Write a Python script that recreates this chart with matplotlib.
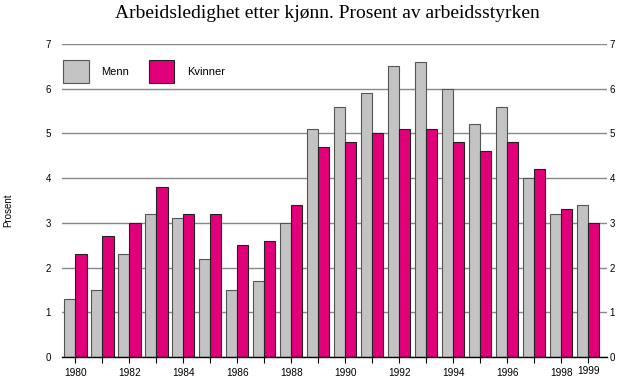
import numpy as np
import matplotlib.pyplot as plt

years = list(range(1980, 2000))
menn = [1.3, 1.5, 2.3, 3.2, 3.1, 2.2, 1.5, 1.7, 3.0, 5.1,
        5.6, 5.9, 6.5, 6.6, 6.0, 5.2, 5.6, 4.0, 3.2, 3.4]
kvinner = [2.3, 2.7, 3.0, 3.8, 3.2, 3.2, 2.5, 2.6, 3.4, 4.7,
           4.8, 5.0, 5.1, 5.1, 4.8, 4.6, 4.8, 4.2, 3.3, 3.0]
labelled_years = [1980, 1982, 1984, 1986, 1988, 1990, 1992, 1994, 1996, 1998, 1999]

plt.rcParams['font.family'] = ['Liberation Sans', 'DejaVu Sans']

fig = plt.figure(figsize=(6.17, 3.78), dpi=100)
ax = fig.add_axes([0.1005, 0.0556, 0.8833, 0.828])

x = np.array(years)
w = 0.41
ax.bar(x - w / 2, menn, width=w, color='#c3c3c3', edgecolor='#555555',
       linewidth=0.8, label='Menn', zorder=3)
ax.bar(x + w / 2, kvinner, width=w, color='#e2007a', edgecolor='#222222',
       linewidth=0.8, label='Kvinner', zorder=3)

ax.set_xlim(1979.5, 1999.7)
ax.set_ylim(0, 7)
ax.set_yticks(range(0, 8))
ax.yaxis.grid(True, color='#888888', linewidth=1.0, zorder=0)
ax.tick_params(axis='y', length=0, labelsize=7, pad=8)

# right-hand labels sit closer to the grid than the left ones
ax2 = ax.twinx()
ax2.set_ylim(0, 7)
ax2.set_yticks(range(0, 8))
ax2.tick_params(axis='y', length=0, labelsize=7, pad=2)
for side in ['left', 'right', 'top', 'bottom']:
    ax2.spines[side].set_visible(False)

ax.set_xticks(years)
ax.set_xticklabels([str(y) if y in labelled_years else '' for y in years])
ax.tick_params(axis='x', length=4, width=0.8, labelsize=7.3, pad=4)
for lbl in ax.get_xticklabels():
    if lbl.get_text() == '1999':
        lbl.set_y(0.006)

for side in ['left', 'right', 'top']:
    ax.spines[side].set_visible(False)
ax.spines['bottom'].set_linewidth(1.0)
ax.spines['bottom'].set_zorder(4)

ax.legend(loc='upper left', ncol=2, frameon=False, fontsize=8,
          handlelength=2.3, handleheight=2.9, columnspacing=1.8,
          handletextpad=1.1, borderpad=0.2, bbox_to_anchor=(-0.012, 0.975))

fig.text(0.530, 0.963, 'Arbeidsledighet etter kjønn. Prosent av arbeidsstyrken',
         ha='center', va='center', fontsize=14, family='Liberation Serif')
fig.text(0.013, 0.445, 'Prosent', rotation=90, ha='center', va='center', fontsize=7)

fig.savefig('out.png', dpi=100)
